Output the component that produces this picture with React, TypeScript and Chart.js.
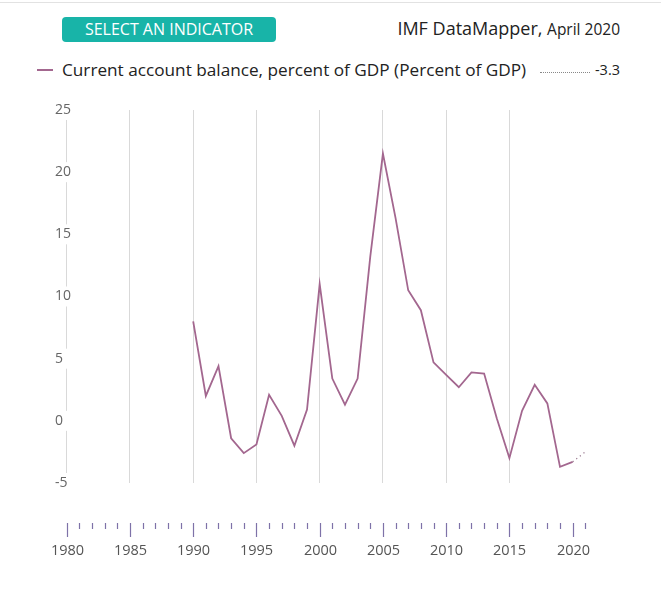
import React, { useEffect, useRef } from "react";
import { Chart, registerables } from "chart.js";

Chart.register(...registerables);

const years = [
  1990, 1991, 1992, 1993, 1994, 1995, 1996, 1997, 1998, 1999,
  2000, 2001, 2002, 2003, 2004, 2005, 2006, 2007, 2008, 2009,
  2010, 2011, 2012, 2013, 2014, 2015, 2016, 2017, 2018, 2019,
  2020, 2021,
];
const balance = [
  8.0, 2.0, 4.4, -1.4, -2.6, -1.9, 2.1, 0.4, -2.0, 0.9,
  11.0, 3.4, 1.3, 3.4, 13.2, 21.5, 16.3, 10.5, 8.9, 4.7,
  3.7, 2.7, 3.9, 3.8, 0.2, -3.0, 0.8, 2.9, 1.4, -3.7,
  -3.3, -2.5,
];
const lastActualYear = 2020;
const yTicks = [25, 20, 15, 10, 5, 0, -5];
const axisYears = [
  1980, 1981, 1982, 1983, 1984, 1985, 1986, 1987, 1988, 1989,
  1990, 1991, 1992, 1993, 1994, 1995, 1996, 1997, 1998, 1999,
  2000, 2001, 2002, 2003, 2004, 2005, 2006, 2007, 2008, 2009,
  2010, 2011, 2012, 2013, 2014, 2015, 2016, 2017, 2018, 2019,
  2020, 2021,
];
const seriesLabel = "Current account balance, percent of GDP (Percent of GDP)";
const legendValue = "-3.3";

const LINE = "#a3678f";
const FONT = "'Open Sans', Lato, sans-serif";

const axisPlugin = {
  id: "customAxes",
  afterDraw(chart: any) {
    const ctx = chart.ctx;
    const xs = chart.scales.x;
    const ys = chart.scales.y;
    ctx.save();
    ctx.font = `14px ${FONT}`;
    ctx.textAlign = "left";
    ctx.textBaseline = "middle";
    for (const v of yTicks) {
      const y = ys.getPixelForValue(v);
      ctx.fillStyle = "#ffffff";
      ctx.fillRect(52, y - 10, 22, 20);
      ctx.fillStyle = "#666666";
      ctx.fillText(String(v), 55, y);
    }
    const top = 523;
    ctx.strokeStyle = "#7e72a8";
    ctx.lineWidth = 1.2;
    for (const yr of axisYears) {
      const x = Math.round(xs.getPixelForValue(yr)) + 0.5;
      const major = yr % 5 === 0;
      ctx.beginPath();
      ctx.moveTo(x, top);
      ctx.lineTo(x, top + (major ? 14 : 6));
      ctx.stroke();
      if (major) {
        ctx.fillStyle = "#555555";
        ctx.font = `14.5px ${FONT}`;
        ctx.textAlign = "center";
        ctx.textBaseline = "middle";
        ctx.fillText(String(yr), x, 551);
      }
    }
    ctx.restore();
  },
};

export default function App() {
  const ref = useRef<HTMLCanvasElement>(null);

  useEffect(() => {
    document.body.style.margin = "0";
    const canvas = ref.current!;
    const points = years.map((y, i) => ({ x: y, y: balance[i] }));
    const chart = new Chart(canvas, {
      type: "line",
      data: {
        datasets: [
          {
            label: seriesLabel,
            data: points,
            borderColor: LINE,
            borderWidth: 1.8,
            pointRadius: 0,
            tension: 0,
            fill: false,
            segment: {
              borderDash: (c: any) =>
                c.p0.parsed.x >= lastActualYear ? [1.2, 3.4] : undefined,
              borderColor: (c: any) =>
                c.p0.parsed.x >= lastActualYear ? "#9a7a90" : LINE,
              borderWidth: (c: any) => (c.p0.parsed.x >= lastActualYear ? 1.3 : 1.8),
            },
          },
        ],
      },
      options: {
        responsive: false,
        animation: false,
        layout: { padding: { left: 66.7, right: 75.7, top: 110, bottom: 129 } },
        plugins: { legend: { display: false }, tooltip: { enabled: false } },
        scales: {
          x: {
            type: "linear",
            min: 1980,
            max: 2021,
            afterBuildTicks: (s: any) => {
              s.ticks = s.ticks.filter((t: any) => t.value % 5 === 0);
            },
            ticks: { display: false, stepSize: 5 },
            grid: { drawTicks: false, color: "#d9d9d9", lineWidth: 1 },
            border: { display: false },
          },
          y: {
            min: -5,
            max: 25,
            ticks: { display: false },
            grid: { display: false, drawTicks: false },
            border: { display: false },
          },
        },
      },
      plugins: [axisPlugin],
    });
    return () => chart.destroy();
  }, []);

  return (
    <div style={{ position: "relative", width: 661, height: 612, fontFamily: FONT, background: "#fff" }}>
      <div style={{ position: "absolute", left: 0, top: 2, width: 661, height: 1, background: "#e2e2e2" }} />
      <div
        style={{
          position: "absolute", left: 62, top: 17, width: 214, height: 25,
          background: "#18b4a8", borderRadius: 4, color: "#fff", fontSize: 16,
          lineHeight: "25px", textAlign: "center",
        }}
      >
        SELECT AN INDICATOR
      </div>
      <div
        style={{
          position: "absolute", right: 41, top: 16, height: 25, lineHeight: "25px",
          color: "#222", whiteSpace: "nowrap",
        }}
      >
        <span style={{ fontSize: 18 }}>IMF DataMapper, </span>
        <span style={{ fontSize: 15.5 }}>April 2020</span>
      </div>
      <div style={{ position: "absolute", left: 37, top: 69, width: 16, height: 2, background: LINE }} />
      <div
        style={{
          position: "absolute", left: 62, top: 58, height: 24, lineHeight: "24px",
          fontSize: 17.2, color: "#222", whiteSpace: "nowrap",
        }}
      >
        {seriesLabel}
      </div>
      <div style={{ position: "absolute", left: 540, top: 72, width: 50, height: 0, borderTop: "1px dotted #888" }} />
      <div
        style={{
          position: "absolute", right: 41, top: 59, height: 22, lineHeight: "22px",
          fontSize: 14.5, color: "#222",
        }}
      >
        {legendValue}
      </div>
      <canvas ref={ref} width={661} height={612} style={{ position: "absolute", left: 0, top: 0 }} />
    </div>
  );
}
